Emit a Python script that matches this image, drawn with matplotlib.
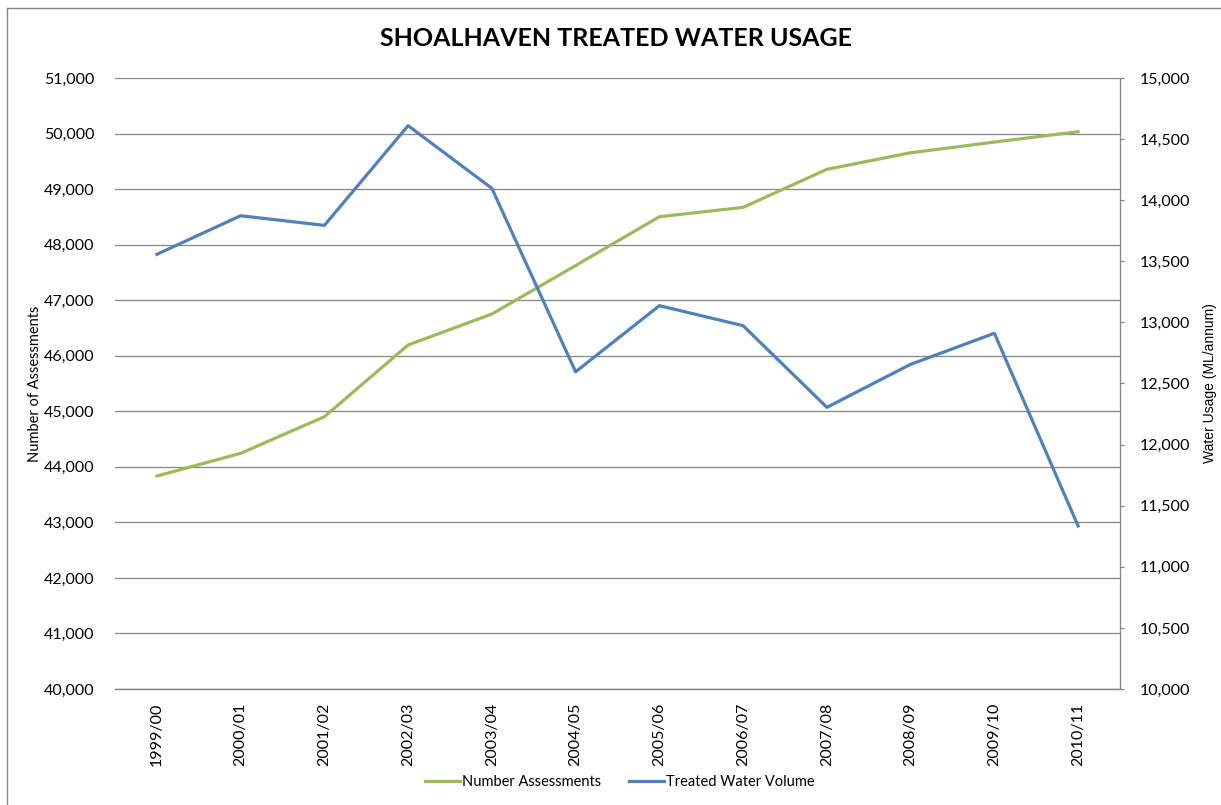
import matplotlib.pyplot as plt
from matplotlib.ticker import FuncFormatter
from matplotlib.lines import Line2D

# Données
years = ['1999/00', '2000/01', '2001/02', '2002/03', '2003/04', '2004/05',
         '2005/06', '2006/07', '2007/08', '2008/09', '2009/10', '2010/11']
assessments = [43834, 44243, 44902, 46193, 46751, 47624,
               48502, 48671, 49356, 49654, 49847, 50033]
water_volume = [13557, 13873, 13794, 14610, 14097, 12596,
                13137, 12973, 12305, 12657, 12911, 11334]

green = '#9BBB59'
blue = '#4F81BD'
grid_col = '#868686'
font = ['Lato', 'DejaVu Sans']

plt.rcParams['font.family'] = font

fig = plt.figure(figsize=(12.21, 8.05), dpi=100)
ax = fig.add_axes([115 / 1221, 1 - 689 / 805, 1005 / 1221, 611 / 805])
ax2 = ax.twinx()

x = list(range(len(years)))
l1, = ax.plot(x, assessments, color=green, lw=2.3, label='Number Assessments')
l2, = ax2.plot(x, water_volume, color=blue, lw=2.3, label='Treated Water Volume')

# Axe gauche
ax.set_xlim(-0.5, len(years) - 0.5)
ax.set_ylim(40000, 51000)
ax.set_yticks(range(40000, 51001, 1000))
ax.yaxis.set_major_formatter(FuncFormatter(lambda v, p: f'{int(v):,}'))
ax.grid(axis='y', color=grid_col, lw=0.9)
ax.set_axisbelow(True)
ax.tick_params(axis='y', length=0, pad=15, labelsize=11.5)
ax.set_xticks(x)
ax.set_xticklabels(years, rotation=90, fontsize=11.5)
ax.tick_params(axis='x', length=0, pad=10)
ax.set_ylabel('Number of Assessments', fontsize=10.5)
ax.yaxis.set_label_coords(-(115 - 42) / 1005, 0.5)

# Axe droit
ax2.set_ylim(10000, 15000)
ax2.set_yticks(range(10000, 15001, 500))
ax2.yaxis.set_major_formatter(FuncFormatter(lambda v, p: f'{int(v):,}'))
ax2.tick_params(axis='y', length=3, width=0.9, color=grid_col, pad=11, labelsize=11.5)
ax2.set_ylabel('Water Usage (ML/annum)', fontsize=10, family=['Liberation Sans', 'DejaVu Sans'])
ax2.yaxis.set_label_coords(1 + (1203 - 1120) / 1005, 0.5)

for a in (ax, ax2):
    for s in ['top', 'left']:
        a.spines[s].set_visible(False)
    a.spines['bottom'].set_color(grid_col)
    a.spines['bottom'].set_linewidth(0.9)
    a.spines['right'].set_color(grid_col)
    a.spines['right'].set_linewidth(0.9)
ax.spines['right'].set_visible(False)

fig.text(616 / 1221, 1 - 39 / 805, 'SHOALHAVEN TREATED WATER USAGE',
         ha='center', va='center', fontsize=18, fontweight='bold')

fig.legend(handles=[l1, l2], loc='center', bbox_to_anchor=(620 / 1221, 1 - 782 / 805),
           ncol=2, frameon=False, fontsize=10.5, handlelength=2.4,
           handletextpad=0.15, columnspacing=1.9)

# Cadre extérieur
fig.add_artist(Line2D([7 / 1221, 7 / 1221], [0, 1 - 8 / 805], transform=fig.transFigure,
                      color=grid_col, lw=1))
fig.add_artist(Line2D([7 / 1221, 1], [1 - 8 / 805, 1 - 8 / 805], transform=fig.transFigure,
                      color=grid_col, lw=1))

fig.savefig('out.png', dpi=100, facecolor='white')
